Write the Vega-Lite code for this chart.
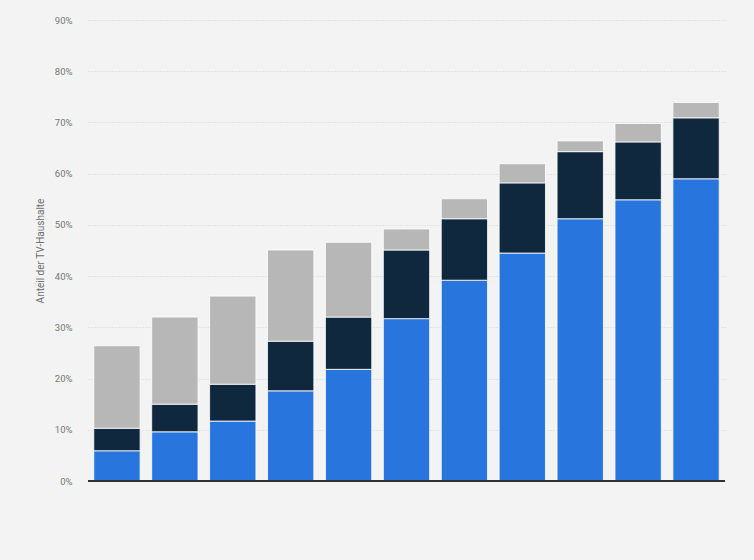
{
  "$schema": "https://vega.github.io/schema/vega-lite/v6.json",
  "width": 637,
  "height": 461,
  "autosize": {"type": "none"},
  "padding": {"left": 88, "top": 20, "right": 29, "bottom": 79},
  "background": "#f3f3f3",
  "config": {
    "view": {"stroke": null},
    "font": "Roboto"
  },
  "data": {
    "values": [
      {"jahr": "1", "gruppe": "A", "anteil": 5.9},
      {"jahr": "1", "gruppe": "B", "anteil": 4.4},
      {"jahr": "1", "gruppe": "C", "anteil": 16.1},
      {"jahr": "2", "gruppe": "A", "anteil": 9.6},
      {"jahr": "2", "gruppe": "B", "anteil": 5.4},
      {"jahr": "2", "gruppe": "C", "anteil": 17.0},
      {"jahr": "3", "gruppe": "A", "anteil": 11.7},
      {"jahr": "3", "gruppe": "B", "anteil": 7.2},
      {"jahr": "3", "gruppe": "C", "anteil": 17.2},
      {"jahr": "4", "gruppe": "A", "anteil": 17.6},
      {"jahr": "4", "gruppe": "B", "anteil": 9.7},
      {"jahr": "4", "gruppe": "C", "anteil": 17.8},
      {"jahr": "5", "gruppe": "A", "anteil": 21.8},
      {"jahr": "5", "gruppe": "B", "anteil": 10.2},
      {"jahr": "5", "gruppe": "C", "anteil": 14.6},
      {"jahr": "6", "gruppe": "A", "anteil": 31.7},
      {"jahr": "6", "gruppe": "B", "anteil": 13.4},
      {"jahr": "6", "gruppe": "C", "anteil": 4.1},
      {"jahr": "7", "gruppe": "A", "anteil": 39.2},
      {"jahr": "7", "gruppe": "B", "anteil": 12.0},
      {"jahr": "7", "gruppe": "C", "anteil": 3.9},
      {"jahr": "8", "gruppe": "A", "anteil": 44.5},
      {"jahr": "8", "gruppe": "B", "anteil": 13.7},
      {"jahr": "8", "gruppe": "C", "anteil": 3.75},
      {"jahr": "9", "gruppe": "A", "anteil": 51.2},
      {"jahr": "9", "gruppe": "B", "anteil": 13.1},
      {"jahr": "9", "gruppe": "C", "anteil": 2.1},
      {"jahr": "10", "gruppe": "A", "anteil": 54.9},
      {"jahr": "10", "gruppe": "B", "anteil": 11.3},
      {"jahr": "10", "gruppe": "C", "anteil": 3.6},
      {"jahr": "11", "gruppe": "A", "anteil": 59.0},
      {"jahr": "11", "gruppe": "B", "anteil": 11.9},
      {"jahr": "11", "gruppe": "C", "anteil": 3.0}
    ]
  },
  "layer": [
    {
      "mark": {"type": "bar", "stroke": "#ffffff", "strokeWidth": 1, "strokeOpacity": 0.8},
      "encoding": {
        "x": {
          "field": "jahr",
          "type": "ordinal",
          "sort": null,
          "scale": {"paddingInner": 0.2, "paddingOuter": 0.1},
          "axis": null
        },
        "y": {
          "field": "anteil",
          "type": "quantitative",
          "stack": "zero",
          "scale": {"domain": [0, 90]},
          "axis": {
            "title": "Anteil der TV-Haushalte",
            "titleColor": "#707070",
            "titleFontSize": 10,
            "titleFontWeight": "normal",
            "titlePadding": 9,
            "values": [0, 10, 20, 30, 40, 50, 60, 70, 80, 90],
            "labelExpr": "datum.value + '%'",
            "labelColor": "#777777",
            "labelFontSize": 9.5,
            "labelPadding": 16,
            "ticks": false,
            "domain": false,
            "gridColor": "#d2d2d2",
            "gridDash": [1, 2],
            "gridWidth": 1
          }
        },
        "color": {
          "field": "gruppe",
          "type": "nominal",
          "scale": {"domain": ["A", "B", "C"], "range": ["#2876dd", "#0f283e", "#b7b7b7"]},
          "legend": null
        },
        "order": {"field": "gruppe", "sort": "ascending"}
      }
    },
    {
      "mark": {"type": "rule", "color": "#333333", "strokeWidth": 1.5},
      "encoding": {
        "y": {"datum": 0, "type": "quantitative"}
      }
    }
  ]
}
